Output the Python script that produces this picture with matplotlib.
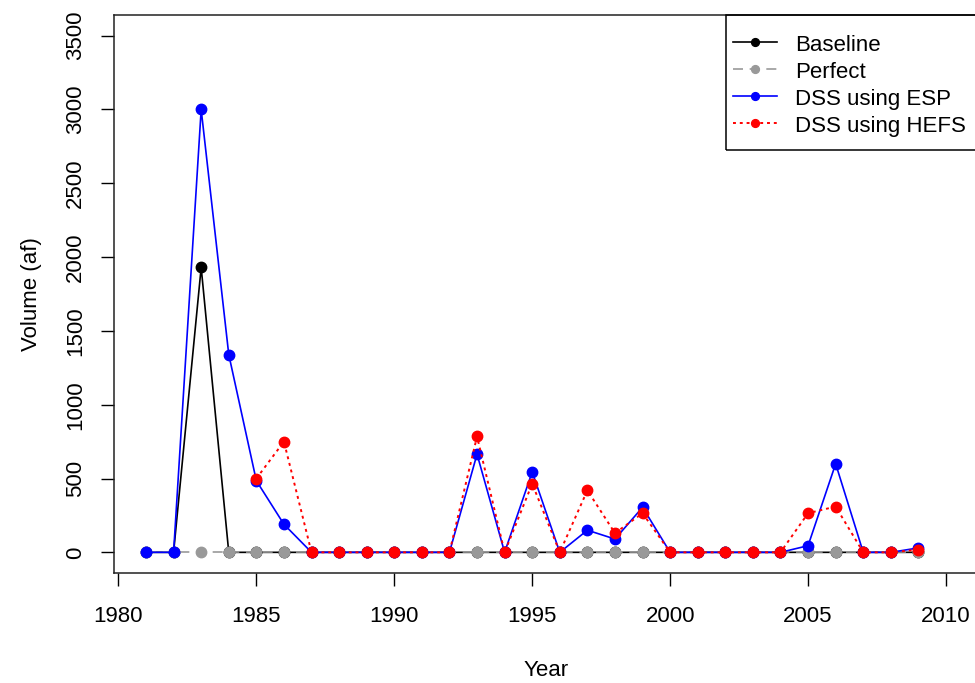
import numpy as np
import matplotlib
matplotlib.use("Agg")
import matplotlib.pyplot as plt
from matplotlib.patches import Rectangle

plt.rcParams["font.family"] = ["Liberation Sans", "DejaVu Sans"]

# data
years = list(range(1981, 2010))
baseline = [0, 0, 1930] + [0] * 26
perfect = [0] * 29
esp = [0, 0, 3000, 1340, 485, 190, 0, 0, 0, 0, 0, 0, 665, 0, 545, 0,
       150, 90, 305, 0, 0, 0, 0, 0, 45, 600, 0, 0, 30]
hefs_years = list(range(1985, 2010))
hefs = [500, 750, 0, 0, 0, 0, 0, 0, 785, 0, 465, 0, 420, 130, 265, 0,
        0, 0, 0, 0, 265, 310, 0, 0, 18]

FS = 16

fig = plt.figure(figsize=(9.75, 6.83), dpi=100)
ax = fig.add_axes([114 / 975, 110 / 683, 864 / 975, 558 / 683])

ms = 7.5
ax.plot(years, baseline, color="black", lw=1.2, marker="o", ms=ms, label="Baseline")
ax.plot(years, perfect, color="#999999", lw=1.2, ls=(0, (6, 4)), marker="o", ms=ms,
        label="Perfect")
ax.plot(years, esp, color="blue", lw=1.2, marker="o", ms=ms, label="DSS using ESP")
ax.plot(hefs_years, hefs, color="red", lw=1.4, ls=(0, (1.5, 2)), marker="o", ms=ms,
        label="DSS using HEFS")

ax.set_xlim(1981 - 0.04 * 29, 2010 + 0.04 * 29)
ax.set_ylim(-140, 3640)
ax.set_xticks(range(1980, 2011, 5))
ax.set_yticks(range(0, 3501, 500))
ax.tick_params(axis="both", direction="out", length=9.5, width=1, labelsize=FS,
               color="black")
ax.tick_params(axis="x", pad=14)
ax.tick_params(axis="y", pad=10.5)
for lab in ax.get_yticklabels():
    lab.set_rotation(90)
    lab.set_va("center")
for sp in ax.spines.values():
    sp.set_linewidth(1.1)
    sp.set_color("#222222")

ax.set_xlabel("Year", fontsize=FS, labelpad=24)
ax.set_ylabel("Volume (af)", fontsize=FS, labelpad=17)

# legend entries without frame, box drawn R-style around them
leg = ax.legend(loc="upper left", bbox_to_anchor=(0.7164, 0.9677), fontsize=FS,
                frameon=False, borderaxespad=0, borderpad=0, handlelength=2.0,
                handletextpad=0.8, handleheight=1.0, labelspacing=0.2,
                markerscale=0.75)
ax.add_patch(Rectangle((0.708, 0.758), 0.3, 0.242, transform=ax.transAxes,
                       fill=False, edgecolor="black", lw=1.1, clip_on=False,
                       zorder=5))

fig.savefig("out.png", dpi=100)
